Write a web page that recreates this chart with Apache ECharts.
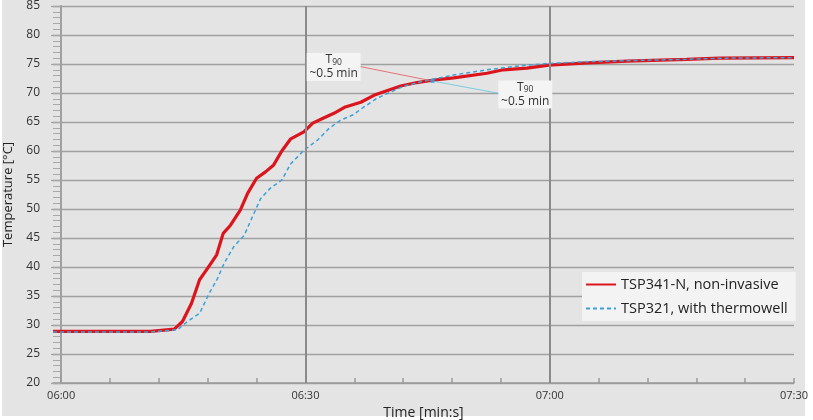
<!DOCTYPE html>
<html>
<head>
<meta charset="utf-8">
<script src="https://cdn.jsdelivr.net/npm/echarts@6/dist/echarts.min.js"></script>
<style>
html,body{margin:0;padding:0;background:#ffffff;}
#bg{position:absolute;left:2px;top:0;width:803px;height:416px;background:#e4e4e4;}
#chart{position:absolute;left:0;top:0;width:813px;height:420px;}
</style>
</head>
<body>
<div id="bg"></div>
<div id="chart"></div>
<script>
// time in seconds after 06:00
const redName = 'TSP341-N, non-invasive';
const blueName = 'TSP321, with thermowell';
const redTime = [-1, 11, 13.9, 14.9, 16.0, 17.0, 18.0, 19.1, 19.9, 20.8, 22.0, 22.9, 24.0, 25.1, 26.1, 27.1, 28.2, 29.8, 30.9, 32.1, 33.5, 34.9, 36.8, 38.4, 40.0, 41.7, 43.7, 45.6, 48.2, 52.3, 54.3, 57.2, 59.9, 64.6, 69.5, 76.8, 80.9, 90];
const redTemp = [28.9, 28.9, 29.3, 30.6, 33.7, 37.8, 39.8, 42.1, 45.8, 47.2, 49.8, 52.7, 55.3, 56.4, 57.6, 60.0, 62.1, 63.3, 64.8, 65.6, 66.5, 67.6, 68.4, 69.6, 70.4, 71.2, 71.8, 72.2, 72.6, 73.4, 74.0, 74.3, 74.8, 75.2, 75.5, 75.8, 76.0, 76.1];
const blueTime = [-1, 11, 14.3, 15.5, 17.0, 18.2, 19.2, 20.0, 21.2, 22.5, 23.5, 24.5, 25.7, 27.1, 28.2, 29.8, 31.5, 32.9, 34.3, 35.8, 37.2, 38.8, 40.5, 42.1, 44.1, 45.7, 48.2, 52.3, 56.4, 59.9, 64.6, 70, 76.8, 80.9, 90];
const blueTemp = [28.8, 28.8, 29.2, 30.6, 32.0, 35.5, 38.0, 40.6, 43.5, 45.5, 48.7, 51.8, 53.6, 55.0, 57.8, 60.1, 61.9, 63.9, 65.3, 66.2, 67.6, 69.1, 70.2, 71.2, 71.9, 72.4, 73.1, 74.0, 74.7, 75.1, 75.4, 75.6, 75.8, 76.0, 76.1];
const xTickValues = [0, 6, 12, 18, 24, 30, 36, 42, 48, 54, 60, 66, 72, 78, 84, 90];
const xLabelValues = [0, 30, 60, 90];
const xGridValues = [30, 60];
// T90 annotation: point, red label anchor, blue label anchor (data units)
const t90Point = [45.6, 72.07];
const t90RedBox = [33.47, 74.48];
const t90RedLeaderStart = [36.78, 74.54];
const t90BlueBox = [57.0, 69.74];
const t90BlueLeaderStart = [53.7, 69.95];
const t90Text = ['T', '90', '~0.5 min'];

const RED = '#dc141c';
const BLUE = '#3ba1d8';
const FONT = 'Open Sans';

function fmt(s) {
  const total = 6 * 60 + s;
  const m = Math.floor(total / 60), sec = Math.round(total % 60);
  return String(m).padStart(2, '0') + ':' + String(sec).padStart(2, '0');
}
const zip = (a, b) => a.map((v, i) => [v, b[i]]);

const boxLabel = {
  show: true,
  position: 'inside',
  formatter: '{t|' + t90Text[0] + '}{s|' + t90Text[1] + '}\n{n|' + t90Text[2] + '}',
  rich: {
    t: {fontFamily: FONT, fontSize: 12, color: '#333', lineHeight: 14},
    s: {fontFamily: FONT, fontSize: 8.5, color: '#333', padding: [5, 0, 0, 0], lineHeight: 14},
    n: {fontFamily: FONT, fontSize: 12, color: '#333', lineHeight: 14}
  }
};

const chart = echarts.init(document.getElementById('chart'), null, {renderer: 'canvas'});
chart.setOption({
  backgroundColor: 'transparent',
  animation: false,
  textStyle: {fontFamily: FONT},
  grid: {left: 53, right: 19, top: 6, bottom: 37, containLabel: false, outerBoundsMode: 'none'},
  legend: {
    data: [
      {name: redName, itemStyle: {opacity: 0}},
      {name: blueName, itemStyle: {opacity: 0}}
    ],
    orient: 'vertical',
    left: 582, top: 272,
    padding: [5, 8, 5, 3],
    itemWidth: 30, itemHeight: 10, itemGap: 9,
    backgroundColor: '#f3f3f3',
    textStyle: {fontFamily: FONT, fontSize: 14.5, color: '#222'}
  },
  xAxis: {
    type: 'value', min: -1, max: 90,
    name: 'Time [min:s]', nameLocation: 'middle', nameGap: 22,
    nameTextStyle: {fontFamily: FONT, fontSize: 14, color: '#222'},
    axisLine: {show: true, onZero: false, lineStyle: {color: '#9a9a9a', width: 1.5}},
    axisTick: {show: true, inside: true, length: 5, customValues: xTickValues, lineStyle: {color: '#9a9a9a', width: 1.5}},
    axisLabel: {customValues: xLabelValues, formatter: v => fmt(v), fontFamily: FONT, fontSize: 11, color: '#333', margin: 7},
    splitLine: {show: false}
  },
  yAxis: [{
    type: 'value', min: 20, max: 85, interval: 5,
    name: 'Temperature [°C]', nameLocation: 'middle', nameGap: 38,
    nameTextStyle: {fontFamily: FONT, fontSize: 13, color: '#222'},
    axisLine: {show: true, lineStyle: {color: '#a0a0a0', width: 2}},
    axisTick: {show: true, inside: false, length: 10, lineStyle: {color: '#a0a0a0', width: 1.3}},
    axisLabel: {fontFamily: FONT, fontSize: 12, color: '#333', margin: 13},
    splitLine: {show: true, lineStyle: {color: '#a0a0a0', width: 1.3}}
  }, {
    type: 'value', min: 20, max: 85, interval: 1, position: 'left',
    axisLine: {show: false},
    axisTick: {show: true, inside: true, length: 7, lineStyle: {color: '#a8a8a8', width: 1}},
    axisLabel: {show: false},
    splitLine: {show: false}
  }],
  series: [{
    name: redName, type: 'line', data: zip(redTime, redTemp),
    showSymbol: false, symbol: 'none', z: 3,
    color: RED,
    lineStyle: {color: RED, width: 3.2},
    markLine: {
      silent: true, symbol: 'none', label: {show: false},
      lineStyle: {color: '#8a8a8a', width: 2, type: 'solid'},
      data: xGridValues.map(v => ({xAxis: v}))
    }
  }, {
    name: blueName, type: 'line', data: zip(blueTime, blueTemp),
    showSymbol: false, symbol: 'none', z: 4,
    color: BLUE,
    lineStyle: {color: BLUE, width: 1.5, type: [4, 3]}
  }, {
    name: 'leaderRed', type: 'line', data: [t90RedLeaderStart, t90Point],
    showSymbol: false, symbol: 'none', z: 5,
    lineStyle: {color: '#e4545a', width: 0.8},
    markPoint: {
      silent: true,
      data: [{coord: t90RedBox, symbol: 'rect', symbolSize: [54, 28], itemStyle: {color: '#f4f4f4'}, label: boxLabel}]
    }
  }, {
    name: 'leaderBlue', type: 'line', data: [t90BlueLeaderStart, t90Point],
    showSymbol: false, symbol: 'none', z: 5,
    lineStyle: {color: '#5cc6e0', width: 0.8},
    markPoint: {
      silent: true,
      data: [{coord: t90BlueBox, symbol: 'rect', symbolSize: [54, 28], itemStyle: {color: '#f4f4f4'}, label: boxLabel}]
    }
  }, {
    name: 't90', type: 'scatter', data: [t90Point], z: 6,
    symbol: 'rect', symbolSize: 4, itemStyle: {color: BLUE}
  }]
});
</script>
</body>
</html>
